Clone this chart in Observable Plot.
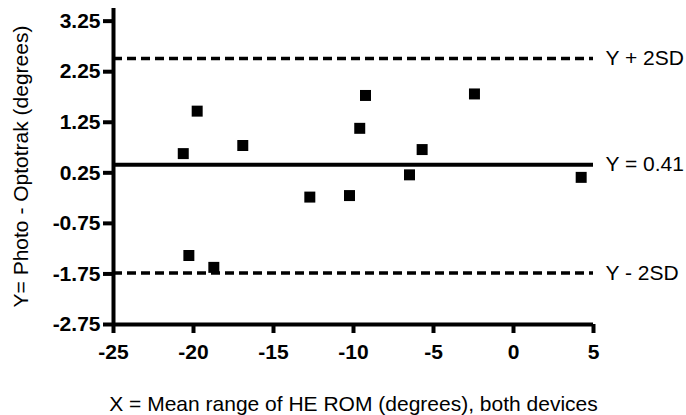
<!DOCTYPE html>
<html><head><meta charset="utf-8">
<script src="https://cdn.jsdelivr.net/npm/d3@7"></script>
<script src="https://cdn.jsdelivr.net/npm/@observablehq/plot@0.6"></script>
<style>
body{margin:0;background:#fff;}
#chart svg{font-family:"Liberation Sans",Arial,sans-serif;background:#fff;}
#chart g[aria-label="x-axis tick label"], #chart g[aria-label="y-axis tick label"]{font-weight:bold;font-size:21px;}
#chart g[aria-label="x-axis label"], #chart g[aria-label="y-axis label"]{font-weight:normal;font-size:21px;}
</style></head><body><div id="chart"></div>
<script>
// Data (Bland–Altman style plot)
const meanRange = [-20.64, -19.77, -16.92, -12.73, -10.25, -9.25, -9.61, -5.71, -6.5, -2.44, 4.23, -20.29, -18.73];
const difference = [0.63, 1.47, 0.79, -0.23, -0.20, 1.78, 1.13, 0.71, 0.21, 1.81, 0.16, -1.385, -1.62];
const xTicks = [-25, -20, -15, -10, -5, 0, 5];
const yTicks = [3.25, 2.25, 1.25, 0.25, -0.75, -1.75, -2.75];
const xDomain = [-25, 5];
const yDomain = [-2.75, 3.5];
const refValues = [2.51, 0.41, -1.73];
const refLabels = ["Y + 2SD", "Y = 0.41", "Y - 2SD"];
const refDashed = [true, false, true];
const xLabel = "X = Mean range of HE ROM (degrees), both devices";
const yLabel = "Y= Photo - Optotrak (degrees)";

const points = meanRange.map((x, i) => ({x, y: difference[i]}));
const refs = refValues.map((v, i) => ({v, label: refLabels[i], dashed: refDashed[i]}));

const chart = Plot.plot({
  width: 686,
  height: 415,
  marginLeft: 113,
  marginRight: 93,
  marginTop: 8,
  marginBottom: 91,
  style: {fontFamily: '"Liberation Sans", Arial, sans-serif', color: "#000", background: "#fff"},
  x: {domain: xDomain},
  y: {domain: yDomain},
  marks: [
    Plot.ruleY(refs.filter(d => d.dashed), {y: "v", stroke: "#000", strokeWidth: 3.5, strokeDasharray: "9,5"}),
    Plot.ruleY(refs.filter(d => !d.dashed), {y: "v", stroke: "#000", strokeWidth: 4}),
    Plot.text(refs, {y: "v", text: "label", frameAnchor: "right", dx: 12, textAnchor: "start", fontSize: 21, fill: "#000"}),
    Plot.dot(points, {x: "x", y: "y", symbol: "square", r: 6.2, fill: "#000", stroke: "none"}),
    Plot.axisX({ticks: xTicks, tickSize: 9, tickPadding: 11, strokeWidth: 4, fontSize: 21,
      tickFormat: d => String(d), label: xLabel, labelAnchor: "center", labelOffset: 86, labelArrow: "none"}),
    Plot.axisY({ticks: yTicks, tickSize: 10, tickPadding: 3, strokeWidth: 4, fontSize: 21,
      tickFormat: d => d.toFixed(2), label: yLabel, labelAnchor: "center", labelOffset: 100, labelArrow: "none"}),
    Plot.ruleX([xDomain[0]], {stroke: "#000", strokeWidth: 4}),
    Plot.ruleY([yDomain[0]], {stroke: "#000", strokeWidth: 4})
  ]
});
d3.select(chart).selectAll("g[aria-label$='axis tick']").attr("stroke-width", 4)
  .selectAll("path,line").attr("stroke-width", 4).style("stroke-width", "4px");
document.getElementById("chart").appendChild(chart);
</script>
</body></html>
